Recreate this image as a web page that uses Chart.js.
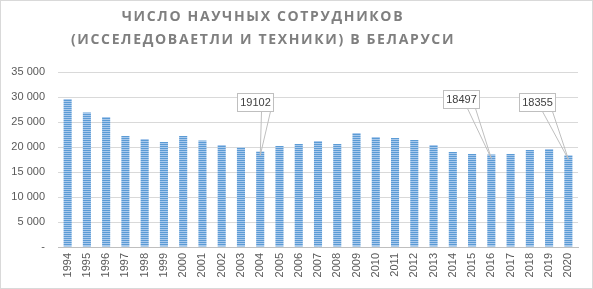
<!DOCTYPE html>
<html>
<head>
<meta charset="utf-8">
<script src="https://cdn.jsdelivr.net/npm/chart.js@4/dist/chart.umd.min.js"></script>
<style>
  html, body { margin: 0; padding: 0; background: #fff; }
  #wrap { position: relative; width: 593px; height: 289px; }
  #frame { position: absolute; left: 0; top: 0; width: 591px; height: 287px; border: 1px solid #d9d9d9; pointer-events: none; }
  #title {
    position: absolute; left: 0; top: 4px; width: 526px; text-align: center;
    font-family: "Open Sans", sans-serif; font-weight: bold; font-size: 14px;
    line-height: 23px; letter-spacing: 1.65px; color: #7f7f7f;
  }
</style>
</head>
<body>
<div id="wrap">
  <canvas id="chart" width="593" height="289"></canvas>
  <div id="title">ЧИСЛО НАУЧНЫХ СОТРУДНИКОВ<br>(ИССЕЛЕДОВАЕТЛИ И ТЕХНИКИ) В БЕЛАРУСИ</div>
  <div id="frame"></div>
</div>
<script>
// --- данные ---
const years = ['1994', '1995', '1996', '1997', '1998', '1999', '2000', '2001', '2002', '2003',
    '2004', '2005', '2006', '2007', '2008', '2009', '2010', '2011', '2012', '2013',
    '2014', '2015', '2016', '2017', '2018', '2019', '2020'];
const staff = [29600, 26900, 26000, 22200, 21600, 21000, 22200, 21300, 20400, 19900,
    19102, 20200, 20600, 21200, 20600, 22800, 22000, 21800, 21400, 20400,
    19000, 18600, 18497, 18600, 19400, 19600, 18355];
const yTicks = [0, 5000, 10000, 15000, 20000, 25000, 30000, 35000];
const labelled = ['2004', '2016', '2020'];

// полосатая заливка столбцов
function stripes() {
    const c = document.createElement('canvas');
    c.width = 4; c.height = 2;
    const g = c.getContext('2d');
    g.fillStyle = '#5b9bd5'; g.fillRect(0, 0, 4, 1);
    g.fillStyle = '#a9c9ec'; g.fillRect(0, 1, 4, 1);
    return g.createPattern(c, 'repeat');
}

const fmt = v => v === 0 ? '-' : String(v).replace(/\B(?=(\d{3})+(?!\d))/g, ' ');

// выноски с подписями
const callouts = {
    2004: { dx: -5, dy: -49, a: 24, b: 33 },
    2016: { dx: -30, dy: -56, a: 24, b: 32 },
    2020: { dx: -31, dy: -53, a: 23, b: 33 }
};
const calloutPlugin = {
    id: 'callouts',
    afterDatasetsDraw(chart) {
        const ctx = chart.ctx;
        const meta = chart.getDatasetMeta(0);
        ctx.save();
        labelled.forEach(y => {
            const i = years.indexOf(y);
            const bar = meta.data[i];
            const c = callouts[y];
            const w = 36, h = 18;
            const left = Math.round(bar.x + c.dx - w / 2) + 0.5;
            const top = Math.round(bar.y + c.dy - h / 2) + 0.5;
            ctx.strokeStyle = '#bfbfbf';
            ctx.lineWidth = 1;
            ctx.beginPath();
            ctx.moveTo(left + c.a, top + h);
            ctx.lineTo(bar.x, bar.y + 4);
            ctx.lineTo(left + c.b, top + h);
            ctx.stroke();
            ctx.fillStyle = '#fff';
            ctx.fillRect(left, top, w, h);
            ctx.strokeRect(left, top, w, h);
            ctx.fillStyle = '#404040';
            ctx.font = '11px "Liberation Sans", Arial, sans-serif';
            ctx.textAlign = 'center';
            ctx.textBaseline = 'middle';
            ctx.fillText(String(staff[i]), left + w / 2, top + h / 2 + 0.5);
        });
        ctx.restore();
    }
};

const tickFont = { family: '"Liberation Sans", Arial, sans-serif', size: 11 };

new Chart(document.getElementById('chart'), {
    type: 'bar',
    data: {
        labels: years,
        datasets: [{
            data: staff,
            backgroundColor: stripes(),
            borderWidth: 0,
            categoryPercentage: 1,
            barPercentage: 0.42
        }]
    },
    options: {
        responsive: false,
        animation: false,
        devicePixelRatio: 1,
        layout: { padding: { top: 72, right: 15, left: 0, bottom: 0 } },
        plugins: { legend: { display: false }, tooltip: { enabled: false }, title: { display: false } },
        scales: {
            x: {
                grid: { display: false, drawTicks: false },
                border: { color: '#bfbfbf', width: 1 },
                ticks: { color: '#595959', font: tickFont, minRotation: 90, maxRotation: 90, padding: 6, autoSkip: false },
                afterFit: s => { s.height = 42; }
            },
            y: {
                min: 0, max: 35000,
                afterBuildTicks: s => { s.ticks = yTicks.map(v => ({ value: v })); },
                grid: { color: '#d9d9d9', drawTicks: false },
                border: { display: false },
                ticks: { color: '#595959', font: tickFont, padding: 13, callback: v => fmt(v) },
                afterFit: s => { s.width = 58; }
            }
        }
    },
    plugins: [calloutPlugin]
});
</script>
</body>
</html>
